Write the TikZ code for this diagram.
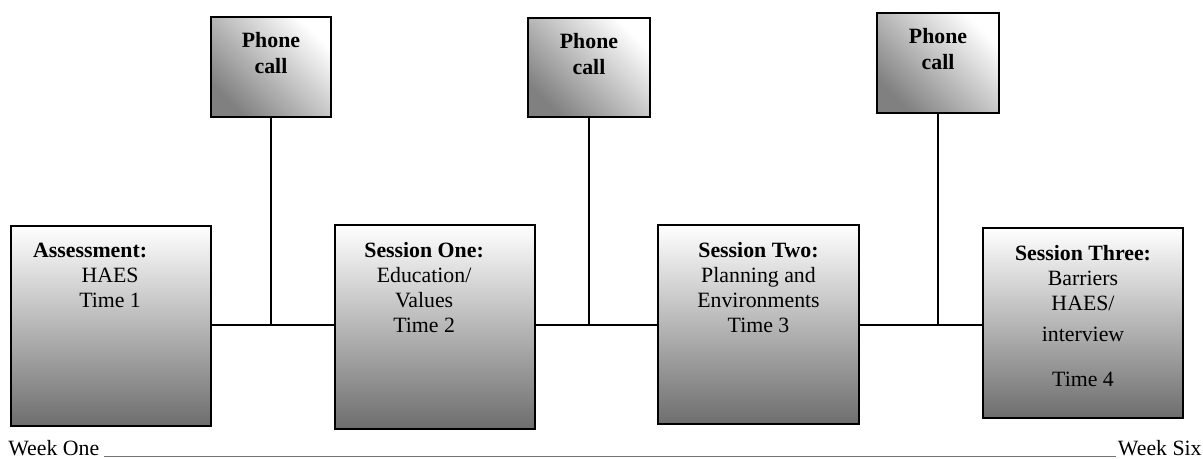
\documentclass[tikz,border=0pt]{standalone}
\usepackage{fontspec}
\setmainfont{Liberation Serif}
\usetikzlibrary{positioning}
\tikzset{
  session/.style={draw, line width=1.1pt, top color=white, bottom color=black!57, minimum width=110pt, inner sep=0pt},
  phonebox/.style={draw, line width=1.1pt, top color=white, bottom color=black!50, shading angle=-45, minimum width=66pt, minimum height=55pt, inner sep=0pt},
  boxtext/.style={align=center, inner sep=0pt, font=\fontsize{12}{13.75}\selectfont},
  phonetext/.style={align=center, inner sep=0pt, font=\fontsize{12}{14.3}\selectfont\bfseries},
  weektext/.style={inner sep=0pt, font=\fontsize{12}{14}\selectfont},
  link/.style={line width=0.8pt}
}
\begin{document}
\begin{tikzpicture}[x=0.55pt, y=-0.55pt]
\useasboundingbox (0,0) rectangle (1203,458);
% sessions
\node[session, minimum height=110pt] (assess) at (111,326) {};
\node[session, minimum height=112.2pt] (sone) at (435,327) {};
\node[session, minimum height=109.5pt, minimum width=110.5pt] (stwo) at (758.5,324.5) {};
\node[session, minimum height=104.5pt] (sthree) at (1083,323) {};
% phone calls
\node[phonebox] (phone1) at (271,67) {};
\node[phonebox, minimum width=67pt, minimum height=54.5pt] (phone2) at (589,67.5) {};
\node[phonebox, minimum width=67pt] (phone3) at (938,63) {};
\foreach \p in {phone1, phone2, phone3}{
    \node[phonetext, below=9pt of \p.north] (\p-txt) {Phone\\call};
}
\node[boxtext, below=10pt of assess.north, xshift=-0.5pt] (assess-txt) {\textbf{Assessment:}\hspace*{22pt}\\HAES\\Time 1};
\node[boxtext, below=10pt of sone.north, xshift=-6pt] (sone-txt) {\textbf{Session One:}\\Education/\\Values\\Time 2};
\node[boxtext, below=10pt of stwo.north] (stwo-txt) {\textbf{Session Two:}\\Planning and\\Environments\\Time 3};
\node[boxtext, below=10pt of sthree.north] (sthree-txt) {\textbf{Session Three:}\\Barriers\\HAES/\\[3.3pt]interview\\[11pt]Time 4};
% connectors
\foreach \a/\p/\b/\j in {assess/phone1/sone/j1, sone/phone2/stwo/j2, stwo/phone3/sthree/j3}{
    \coordinate (\j) at (\p.south |- 0,325);
    \draw[link] (\a.east |- \j) -- (\b.west |- \j);
    \draw[link] (\p.south) -- (\j);
}
% time line
\node[weektext, anchor=base west] (wone) at (8,455) {Week One};
\node[weektext, anchor=base east] (wsix) at (1202,455) {Week Six};
\draw[black!55, line width=0.5pt] ([xshift=2.5pt, yshift=-1pt]wone.base east) -- ([xshift=-1pt, yshift=-1pt]wsix.base west);
\end{tikzpicture}
\end{document}
